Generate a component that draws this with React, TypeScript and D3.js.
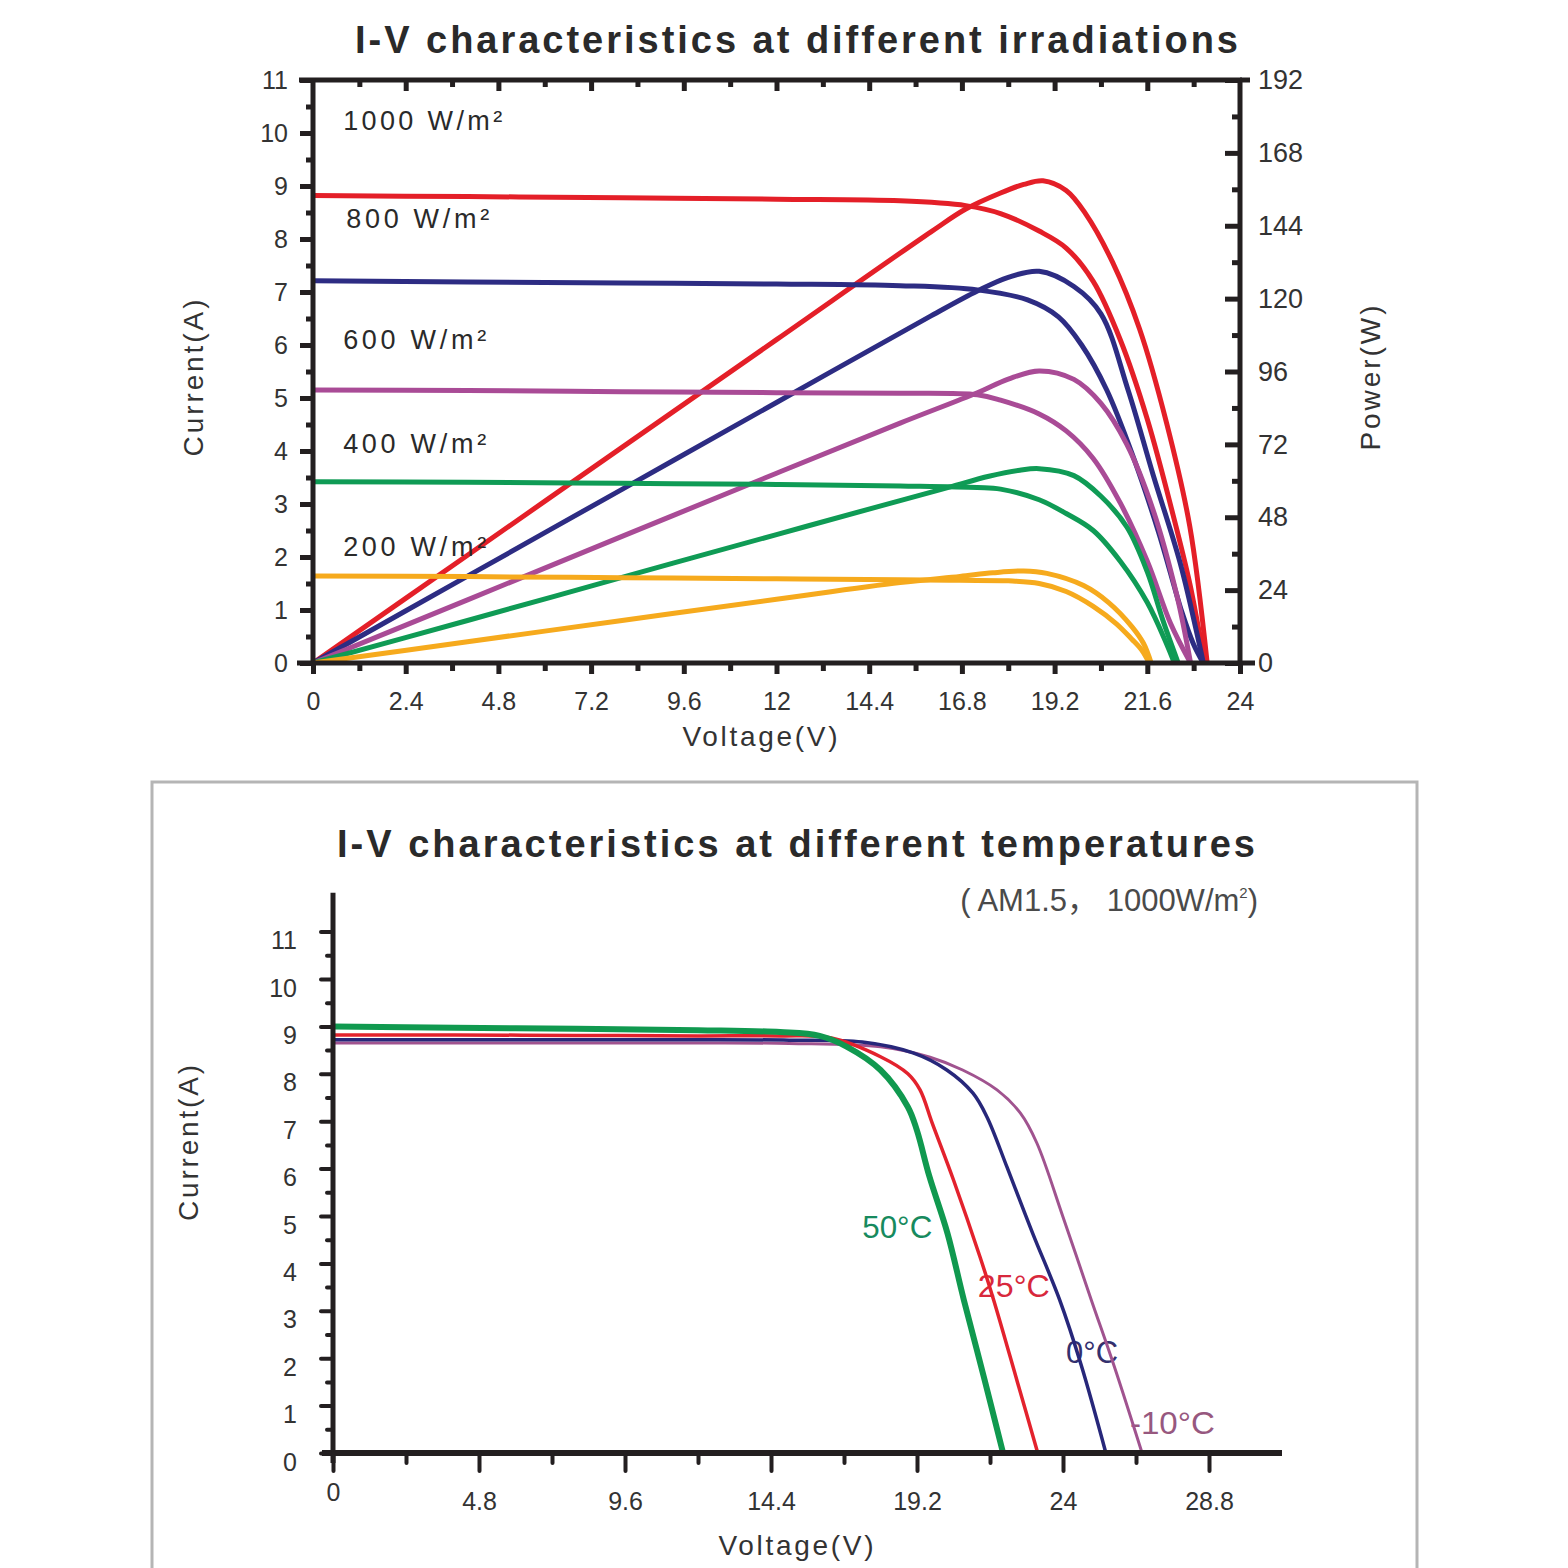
import * as d3 from "d3";
import React, { useRef, useEffect } from "react";

const FONT = "'Liberation Sans', Arial, sans-serif";
const INK = "#231f20";
const TXT = "#333333";

// ---------- top chart: irradiations ----------
const irrLabels = ["1000 W/m²", "800 W/m²", "600 W/m²", "400 W/m²", "200 W/m²"];
const irrColors = ["#e41f28", "#2d2c83", "#a94b96", "#0f9b55", "#f6aa1d"];

const iv1000V = [0, 4, 8, 12, 15.2, 16.9, 17.8, 18.8, 19.5, 20.2, 20.9, 21.6, 22.3, 22.7, 23.0, 23.15];
const iv1000I = [8.82, 8.8, 8.78, 8.75, 8.72, 8.63, 8.48, 8.15, 7.83, 7.2, 6.1, 4.6, 2.7, 1.5, 0.4, 0];
const pv1000V = [0, 4, 8, 12, 16, 16.9, 17.8, 18.4, 18.9, 19.5, 20.0, 20.7, 21.4, 22.1, 22.7, 23.15];
const pv1000P = [0, 35.5, 71, 106.5, 142, 149.5, 154.8, 157.6, 158.8, 155.6, 148, 132, 110, 79, 45, 0];

const iv800V = [0, 4, 8, 12, 15.2, 17.2, 18.5, 19.3, 19.9, 20.55, 21.25, 21.9, 22.5, 22.8, 23.05];
const iv800I = [7.21, 7.19, 7.17, 7.15, 7.12, 7.04, 6.85, 6.53, 6.0, 5.15, 3.86, 2.45, 0.95, 0.35, 0];
const pv800V = [0, 4, 8, 12, 16, 17.2, 18.0, 18.8, 19.7, 20.4, 21.1, 21.75, 22.45, 22.95, 23.05];
const pv800P = [0, 28.6, 57.2, 85.8, 114.3, 122.5, 127, 129, 124, 115, 90, 62, 33, 6, 0];

const iv600V = [0, 4, 8, 12, 15.2, 17.2, 17.8, 18.8, 19.5, 20.2, 20.9, 21.6, 22.2, 22.72];
const iv600I = [5.15, 5.14, 5.12, 5.1, 5.09, 5.06, 4.96, 4.7, 4.38, 3.86, 3.02, 1.92, 0.75, 0];
const pv600V = [0, 4, 8, 12, 15.2, 17.2, 18.0, 18.8, 19.7, 20.4, 21.07, 21.75, 22.37, 22.72];
const pv600P = [0, 20.8, 41.7, 62.5, 79, 89, 93.5, 96.2, 93.4, 85.5, 72, 50.4, 22, 0];

const iv400V = [0, 4, 8, 12, 15.2, 17.2, 17.8, 18.8, 19.5, 20.2, 20.9, 21.6, 22.1, 22.3];
const iv400I = [3.42, 3.41, 3.39, 3.37, 3.34, 3.31, 3.28, 3.08, 2.82, 2.5, 1.92, 1.14, 0.36, 0];
const pv400V = [0, 4, 8, 12, 15.2, 16.5, 17.5, 18.3, 18.8, 19.7, 20.4, 21.07, 21.6, 22.0, 22.4];
const pv400P = [0, 14, 28.2, 42.3, 53.5, 58, 61.5, 63.5, 64, 61.7, 54.9, 44.8, 30, 14.2, 0];

const iv200V = [0, 4, 8, 12, 15.2, 16.75, 18.0, 18.8, 19.5, 20.2, 20.8, 21.2, 21.45, 21.65];
const iv200I = [1.64, 1.63, 1.61, 1.59, 1.57, 1.56, 1.55, 1.5, 1.35, 1.07, 0.74, 0.45, 0.25, 0];
const pv200V = [0, 4, 8, 12, 15.2, 16.75, 17.6, 18.4, 19.0, 19.95, 20.6, 21.2, 21.5, 21.7];
const pv200P = [0, 7, 14, 21, 26.5, 28.5, 29.7, 30.3, 29.5, 25.5, 19.9, 12, 6.5, 0];

const topVoltTicks = [0, 2.4, 4.8, 7.2, 9.6, 12, 14.4, 16.8, 19.2, 21.6, 24];
const currentTicks = [0, 1, 2, 3, 4, 5, 6, 7, 8, 9, 10, 11];
const powerTicks = [0, 24, 48, 72, 96, 120, 144, 168, 192];

// ---------- bottom chart: temperatures ----------
const tempLabels = ["-10°C", "0°C", "25°C", "50°C"];
const tempColors = ["#a0538f", "#27277a", "#e3222d", "#10994f"];
const tempTextColors = ["#97587f", "#33306e", "#d8283c", "#178a5e"];

const tM10V = [0, 4, 8, 12, 15, 18.0, 19.63, 20.7, 21.83, 22.6, 23.14, 24.0, 24.93, 25.7, 26.6];
const tM10I = [8.65, 8.65, 8.65, 8.65, 8.64, 8.57, 8.35, 8.08, 7.66, 7.17, 6.54, 4.98, 3.23, 1.8, 0];
const t0V = [0, 4, 8, 12, 15, 17.4, 19.07, 20.18, 21.04, 21.5, 22.16, 23.0, 23.89, 24.6, 25.41];
const t0I = [8.72, 8.72, 8.72, 8.72, 8.71, 8.67, 8.44, 8.08, 7.59, 7.09, 6.03, 4.64, 3.23, 1.85, 0];
const t25V = [0, 4, 8, 12, 14.7, 16.35, 18.0, 18.9, 19.3, 19.7, 20.4, 21.27, 21.72, 22.5, 23.17];
const t25I = [8.82, 8.82, 8.81, 8.8, 8.8, 8.76, 8.36, 8.0, 7.66, 6.96, 5.76, 4.14, 3.23, 1.5, 0];
const t50V = [0, 4, 8, 12, 14.7, 16.0, 16.9, 18.0, 18.9, 19.2, 19.6, 20.2, 20.74, 21.4, 22.03];
const t50I = [9.0, 8.97, 8.95, 8.92, 8.88, 8.8, 8.57, 8.08, 7.3, 6.8, 5.85, 4.64, 3.23, 1.6, 0];

const bottomVoltTicks = [0, 4.8, 9.6, 14.4, 19.2, 24, 28.8];

type Sel = d3.Selection<SVGGElement, unknown, null, undefined>;

const fmt = (d: d3.NumberValue) => String(+(+d).toFixed(1));
const smooth = d3.curveCatmullRom.alpha(0.5);

function styleAxis(g: Sel, w: number, cap: string, size: number) {
  g.select(".domain").remove();
  g.attr("font-family", FONT).attr("font-size", size);
  g.selectAll(".tick line").attr("stroke", INK).attr("stroke-width", w).attr("stroke-linecap", cap);
  g.selectAll(".tick text").attr("fill", TXT);
}

function drawTop(svg: d3.Selection<SVGSVGElement, unknown, null, undefined>) {
  const x = d3.scaleLinear().domain([0, 24]).range([313, 1240]);
  const yI = d3.scaleLinear().domain([0, 11]).range([663, 80]);
  const yP = d3.scaleLinear().domain([0, 192]).range([663, 80]);
  const root = svg.append("g");

  const ivs = [
    [iv1000V, iv1000I], [iv800V, iv800I], [iv600V, iv600I], [iv400V, iv400I], [iv200V, iv200I],
  ];
  const pvs = [
    [pv1000V, pv1000P], [pv800V, pv800P], [pv600V, pv600P], [pv400V, pv400P], [pv200V, pv200P],
  ];

  const ivLine = d3.line<[number, number]>().x((d) => x(d[0])).y((d) => yI(d[1])).curve(smooth);
  const pvLine = d3.line<[number, number]>().x((d) => x(d[0])).y((d) => yP(d[1])).curve(smooth);

  ivs.forEach(([v, i], k) => {
    root.append("path").datum(d3.zip(v, i) as [number, number][])
      .attr("fill", "none").attr("stroke", irrColors[k]).attr("stroke-width", 5)
      .attr("stroke-linejoin", "round").attr("d", ivLine);
    root.append("path").datum(d3.zip(pvs[k][0], pvs[k][1]) as [number, number][])
      .attr("fill", "none").attr("stroke", irrColors[k]).attr("stroke-width", 5)
      .attr("stroke-linejoin", "round").attr("d", pvLine);
  });

  // frame
  const frame = [
    [x(0) - 14, yI(11), x(24) + 2, yI(11)],
    [x(0), yI(11) - 2, x(0), yI(0) + 2],
    [x(0) - 16, yI(0), x(24) + 15, yI(0)],
    [x(24), yI(11) - 2, x(24), yI(0)],
  ];
  frame.forEach((f) =>
    root.append("line").attr("x1", f[0]).attr("y1", f[1]).attr("x2", f[2]).attr("y2", f[3])
      .attr("stroke", INK).attr("stroke-width", 5));
  root.append("line").attr("x1", x(24)).attr("y1", yI(11)).attr("x2", x(24) + 10).attr("y2", yI(11))
    .attr("stroke", INK).attr("stroke-width", 5);

  const halfI = currentTicks.slice(0, -1).map((d) => d + 0.5);
  const halfP = powerTicks.slice(0, -1).map((d) => d + 12);
  const halfV = topVoltTicks.slice(0, -1).map((d) => d + 1.2);

  root.append("g").attr("transform", `translate(${x(0)},0)`)
    .call(d3.axisLeft(yI).tickValues(currentTicks).tickSize(13).tickPadding(12).tickFormat(fmt))
    .call((g) => styleAxis(g as Sel, 5, "butt", 25));
  root.append("g").attr("transform", `translate(${x(0)},0)`)
    .call(d3.axisLeft(yI).tickValues(halfI).tickSize(7).tickFormat(() => ""))
    .call((g) => styleAxis(g as Sel, 5, "butt", 25));

  root.append("g").attr("transform", `translate(${x(24)},0)`)
    .call(d3.axisRight(yP).tickValues(powerTicks).tickSizeInner(-15).tickSizeOuter(0).tickPadding(18).tickFormat(fmt))
    .call((g) => styleAxis(g as Sel, 5, "butt", 27));
  root.append("g").attr("transform", `translate(${x(24)},0)`)
    .call(d3.axisRight(yP).tickValues(halfP).tickSizeInner(-8).tickSizeOuter(0).tickFormat(() => ""))
    .call((g) => styleAxis(g as Sel, 5, "butt", 27));

  root.append("g").attr("transform", `translate(0,${yI(0)})`)
    .call(d3.axisBottom(x).tickValues(topVoltTicks).tickSize(11).tickPadding(18).tickFormat(fmt))
    .call((g) => styleAxis(g as Sel, 5, "butt", 25));
  root.append("g").attr("transform", `translate(0,${yI(0)})`)
    .call(d3.axisBottom(x).tickValues(halfV).tickSize(8).tickFormat(() => ""))
    .call((g) => styleAxis(g as Sel, 5, "butt", 25));

  // ticks on the top border, pointing inside
  root.append("g").attr("transform", `translate(0,${yI(11)})`)
    .call(d3.axisBottom(x).tickValues(topVoltTicks.slice(1, -1)).tickSize(11).tickFormat(() => ""))
    .call((g) => styleAxis(g as Sel, 5, "butt", 25));
  root.append("g").attr("transform", `translate(0,${yI(11)})`)
    .call(d3.axisBottom(x).tickValues(halfV).tickSize(7).tickFormat(() => ""))
    .call((g) => styleAxis(g as Sel, 5, "butt", 25));

  // irradiance labels
  const labelPos = [
    [0.78, 10.0, 159], [0.86, 8.15, 143], [0.78, 5.87, 143], [0.78, 3.9, 143], [0.78, 1.97, 143],
  ];
  irrLabels.forEach((t, k) => {
    root.append("text").attr("x", x(labelPos[k][0])).attr("y", yI(labelPos[k][1]) - 3)
      .attr("font-family", FONT).attr("font-size", 27).attr("fill", "#2a2a2a")
      .attr("textLength", labelPos[k][2]).attr("lengthAdjust", "spacing").text(t);
  });

  root.append("text").attr("x", 355).attr("y", 53).attr("font-family", FONT)
    .attr("font-weight", "bold").attr("font-size", 38).attr("fill", "#2a2a2a")
    .attr("textLength", 883).attr("lengthAdjust", "spacing")
    .text("I-V characteristics at different irradiations");

  root.append("text").attr("transform", "translate(203,378) rotate(-90)").attr("text-anchor", "middle")
    .attr("font-family", FONT).attr("font-size", 28).attr("fill", TXT)
    .attr("textLength", 157).attr("lengthAdjust", "spacing").text("Current(A)");
  root.append("text").attr("transform", "translate(1380,378) rotate(-90)").attr("text-anchor", "middle")
    .attr("font-family", FONT).attr("font-size", 28).attr("fill", TXT)
    .attr("textLength", 145).attr("lengthAdjust", "spacing").text("Power(W)");
  root.append("text").attr("x", 760).attr("y", 746).attr("text-anchor", "middle")
    .attr("font-family", FONT).attr("font-size", 28).attr("fill", TXT)
    .attr("textLength", 155).attr("lengthAdjust", "spacing").text("Voltage(V)");
}

function drawBottom(svg: d3.Selection<SVGSVGElement, unknown, null, undefined>) {
  const x = d3.scaleLinear().domain([0, 31.2]).range([333, 1282]);
  const y = d3.scaleLinear().domain([0, 11]).range([1453, 931.6]);
  const root = svg.append("g");

  root.append("rect").attr("x", 152).attr("y", 782).attr("width", 1265).attr("height", 820)
    .attr("fill", "none").attr("stroke", "#b5b5b5").attr("stroke-width", 3);

  root.append("text").attr("x", 337).attr("y", 857).attr("font-family", FONT)
    .attr("font-weight", "bold").attr("font-size", 38).attr("fill", "#2a2a2a")
    .attr("textLength", 918).attr("lengthAdjust", "spacing")
    .text("I-V characteristics at different temperatures");

  const sub = root.append("text").attr("x", 1258).attr("y", 911).attr("text-anchor", "end")
    .attr("font-family", FONT).attr("font-size", 31).attr("fill", "#4a4a4a");
  sub.append("tspan").text("( AM1.5");
  sub.append("tspan").attr("font-family", "'Noto Sans CJK SC', sans-serif").text("，");
  sub.append("tspan").text(" 1000W/m");
  sub.append("tspan").attr("font-size", 15).attr("dy", -13).text("2");
  sub.append("tspan").attr("dy", 13).text(")");

  // curve labels
  const labelPos = [
    [26.2, 0.4, 85], [24.1, 1.9, 52], [21.2, 3.3, 72], [17.4, 4.53, 70],
  ];
  tempLabels.forEach((t, k) => {
    root.append("text").attr("x", x(labelPos[k][0])).attr("y", y(labelPos[k][1]))
      .attr("font-family", FONT).attr("font-size", 31).attr("fill", tempTextColors[k])
      .attr("textLength", labelPos[k][2]).attr("lengthAdjust", "spacingAndGlyphs").text(t);
  });

  const line = d3.line<[number, number]>().x((d) => x(d[0])).y((d) => y(d[1])).curve(smooth);
  const series = [[tM10V, tM10I], [t0V, t0I], [t25V, t25I], [t50V, t50I]];
  const widths = [3, 3.5, 3.5, 6];
  series.forEach(([v, i], k) => {
    root.append("path").datum(d3.zip(v, i) as [number, number][])
      .attr("fill", "none").attr("stroke", tempColors[k]).attr("stroke-width", widths[k])
      .attr("stroke-linejoin", "round").attr("d", line);
  });

  // axes
  root.append("line").attr("x1", x(0)).attr("y1", y(11.82)).attr("x2", x(0)).attr("y2", y(0) + 10)
    .attr("stroke", INK).attr("stroke-width", 5);
  root.append("line").attr("x1", x(0) - 11).attr("y1", y(0)).attr("x2", x(31.2)).attr("y2", y(0))
    .attr("stroke", INK).attr("stroke-width", 6);

  const halfI = currentTicks.slice(0, -1).map((d) => d + 0.5);
  const halfV = bottomVoltTicks.map((d) => d + 2.4).filter((d) => d < 30);

  root.append("g").attr("transform", `translate(${x(0)},0)`)
    .call(d3.axisLeft(y).tickValues(currentTicks).tickSize(12).tickPadding(24).tickFormat(fmt))
    .call((g) => styleAxis(g as Sel, 4, "round", 25))
    .call((g) => g.selectAll(".tick text").attr("y", 9));
  root.append("g").attr("transform", `translate(${x(0)},0)`)
    .call(d3.axisLeft(y).tickValues(halfI).tickSize(6).tickFormat(() => ""))
    .call((g) => styleAxis(g as Sel, 4, "round", 25));

  root.append("g").attr("transform", `translate(0,${y(0)})`)
    .call(d3.axisBottom(x).tickValues(bottomVoltTicks).tickSize(18).tickPadding(21).tickFormat(fmt))
    .call((g) => styleAxis(g as Sel, 4, "round", 25))
    .call((g) => g.selectAll<SVGTextElement, number>(".tick text").filter((d) => d === 0).attr("y", 30));
  root.append("g").attr("transform", `translate(0,${y(0)})`)
    .call(d3.axisBottom(x).tickValues(halfV).tickSize(10).tickFormat(() => ""))
    .call((g) => styleAxis(g as Sel, 4, "round", 25));

  root.append("text").attr("transform", "translate(198,1143) rotate(-90)").attr("text-anchor", "middle")
    .attr("font-family", FONT).attr("font-size", 28).attr("fill", TXT)
    .attr("textLength", 156).attr("lengthAdjust", "spacing").text("Current(A)");
  root.append("text").attr("x", 796).attr("y", 1555).attr("text-anchor", "middle")
    .attr("font-family", FONT).attr("font-size", 28).attr("fill", TXT)
    .attr("textLength", 155).attr("lengthAdjust", "spacing").text("Voltage(V)");
}

export default function App() {
  const svgRef = useRef<SVGSVGElement>(null);

  useEffect(() => {
    if (!svgRef.current) return;
    const svg = d3.select(svgRef.current);
    svg.selectAll("*").remove();
    drawTop(svg);
    drawBottom(svg);
  }, []);

  return (
    <svg
      ref={svgRef}
      width={1568}
      height={1568}
      style={{ position: "absolute", left: 0, top: 0, background: "#ffffff" }}
    />
  );
}
